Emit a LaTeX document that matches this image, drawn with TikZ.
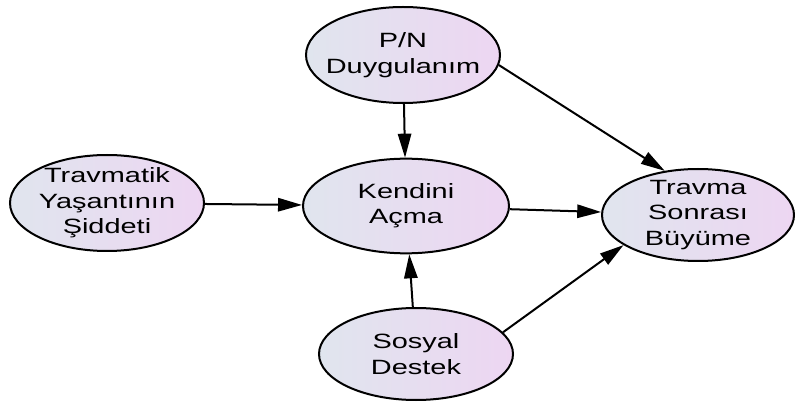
\documentclass[tikz,border=0pt]{standalone}
\usepackage{fontspec}
\usetikzlibrary{shapes.geometric,arrows.meta}
\newfontfamily\lblfont[FakeStretch=1.4]{Liberation Sans}
\definecolor{fillL}{HTML}{E0E5EE}
\definecolor{fillR}{HTML}{EDD6F2}
\tikzset{
  % negative inner sep keeps the ellipse at its minimum size for wide labels
  construct/.style={ellipse, draw=black, line width=1.5pt,
    inner xsep=-20pt, inner ysep=-10pt,
    left color=fillL, right color=fillR, align=center,
    font=\lblfont\fontsize{15.5pt}{19pt}\selectfont},
  path/.style={line width=1.5pt, -{Triangle[length=18pt,width=10pt]}}
}
\begin{document}
\begin{tikzpicture}[x=0.75pt,y=-0.75pt]
\useasboundingbox (0,0) rectangle (795,402);
\node[construct, minimum width=145.5pt, minimum height=72pt] (pn) at (403,55) {P/N\\Duygulanım};
\node[construct, minimum width=145.5pt, minimum height=72pt] (tr) at (107,203) {Travmatik\\Yaşantının\\Şiddeti};
\node[construct, minimum width=154.5pt, minimum height=71pt] (kd) at (406,206) {Kendini\\Açma};
\node[construct, minimum width=144pt, minimum height=69pt] (tsb) at (698,215) {Travma\\Sonrası\\Büyüme};
\node[construct, minimum width=145.5pt, minimum height=69pt] (sd) at (416,354) {Sosyal\\Destek};

\draw[path] (pn) -- (kd);
\draw[path] (pn.-6) -- (tsb.127);
\draw[path] (tr) -- (kd);
\draw[path] (kd) -- (tsb);
\draw[path] (sd) -- (kd);
\draw[path] (sd.14) -- (tsb.202);
\end{tikzpicture}
\end{document}
